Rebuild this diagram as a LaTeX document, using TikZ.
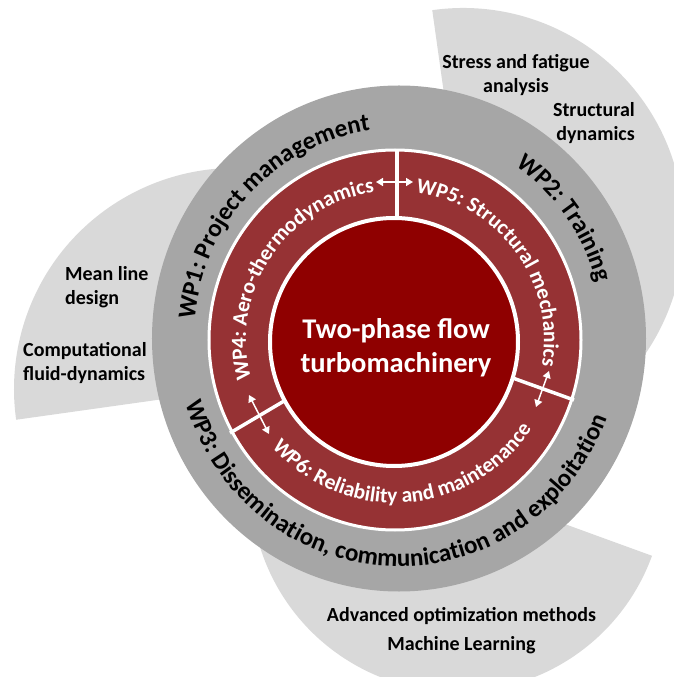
\documentclass[tikz,border=0pt]{standalone}
\usepackage{fontspec}
\setmainfont{Carlito}
\usetikzlibrary{decorations.text,arrows.meta}
\definecolor{ringgray}{HTML}{A6A6A6}
\definecolor{sectorgray}{HTML}{D9D9D9}
\definecolor{ringred}{HTML}{963234}
\definecolor{corered}{HTML}{8F0000}
\begin{document}
\begin{tikzpicture}[x=1pt,y=1pt,
  sidetext/.style={font=\fontsize{20}{24}\selectfont\bfseries, text=black, inner sep=0pt},
  divider/.style={draw=white, line width=3.5pt},
  linkarrow/.style={draw=white, line width=1.5pt, {Triangle[length=7pt,width=8pt]}-{Triangle[length=7pt,width=8pt]}},
  outerlabel/.style={decorate, decoration={text along path, text align=center, text={|\fontsize{25}{25}\selectfont\bfseries|#1}}},
  innerlabel/.style={decorate, decoration={text along path, text align=center, text={|\fontsize{21.5}{21.5}\selectfont\bfseries\color{white}|#1}}},
]
\useasboundingbox (-396,-337) rectangle (277,340);

% light grey sectors behind the rings
\fill[sectorgray] (-161,-49) -- ++(70:221) arc[start angle=70, end angle=188, radius=221] -- cycle;
\fill[sectorgray] (67,111) -- ++(98:221) arc[start angle=98, end angle=-50, radius=221] -- cycle;
\fill[sectorgray] (61.5,-145) -- ++(150:207) arc[start angle=150, end angle=340, radius=207] -- cycle;

% outer grey ring
\fill[ringgray] (3,1.5) ellipse [x radius=247, y radius=253];

% red ring of work packages
\filldraw[fill=ringred, draw=white, line width=3pt] (-1,0) ellipse [x radius=186, y radius=190];

% dividers
\coordinate (d1i) at (1,100);  \coordinate (d1o) at (1,190);
\coordinate (d2i) at (100,-32); \coordinate (d2o) at (178,-60);
\coordinate (d3i) at (-95,-51); \coordinate (d3o) at (-166,-93);
\draw[divider] (d1i) -- (d1o);
\draw[divider] (d2i) -- (d2o);
\draw[divider] (d3i) -- (d3o);

% core
\filldraw[fill=corered, draw=white, line width=4pt] (-2,-2) circle [radius=124];
\node[align=center, font=\fontsize{28.5}{34}\selectfont\bfseries, text=white, inner sep=0pt] (core) at (0,-7.5) {Two-phase flow\\turbomachinery};

% link arrows
\coordinate (a1s) at (-20,158); \coordinate (a1e) at (17,158);
\coordinate (a2s) at (153,-31); \coordinate (a2e) at (140,-67);
\coordinate (a3s) at (-147,-55); \coordinate (a3e) at (-127,-94);
\draw[linkarrow] (a1s) -- (a1e);
\draw[linkarrow] (a2s) -- (a2e);
\draw[linkarrow] (a3s) -- (a3e);

% outer ring labels
\path[outerlabel={WP1: Project management}] (3,1.5) ++(216:205 and 210) arc[start angle=216, end angle=56, x radius=205, y radius=210];
\path[outerlabel={WP2: Training}] (3,1.5) ++(116:205 and 210) arc[start angle=116, end angle=-44, x radius=205, y radius=210];
\path[outerlabel={WP3: Dissemination, communication and exploitation}] (3,1.5) ++(175:222 and 228) arc[start angle=175, end angle=361, x radius=222, y radius=228];

% inner ring labels
\path[innerlabel={WP4: Aero-thermodynamics}] (-1,0) ++(226.5:149) arc[start angle=226.5, end angle=66.5, radius=149];
\path[innerlabel={WP5: Structural mechanics}] (-1,0) ++(116:149) arc[start angle=116, end angle=-44, radius=149];
\path[innerlabel={WP6: Reliability and maintenance}] (-1,0) ++(194:163) arc[start angle=194, end angle=354, radius=163];

% side topics
\node[sidetext, align=left, anchor=north west] (meanline) at (-331,74) {Mean line\\design};
\node[sidetext, align=left, anchor=north west] (cfd) at (-373,-2) {Computational\\fluid-dynamics};
\node[sidetext, align=center, anchor=north] (stress) at (120,286) {Stress and fatigue\\analysis};
\node[sidetext, align=right, anchor=north east] (structdyn) at (239,238) {Structural\\dynamics};
\node[sidetext, align=center, anchor=north, font=\fontsize{20}{29}\selectfont\bfseries] (optim) at (65.5,-267) {Advanced optimization methods\\Machine Learning};
\end{tikzpicture}
\end{document}
